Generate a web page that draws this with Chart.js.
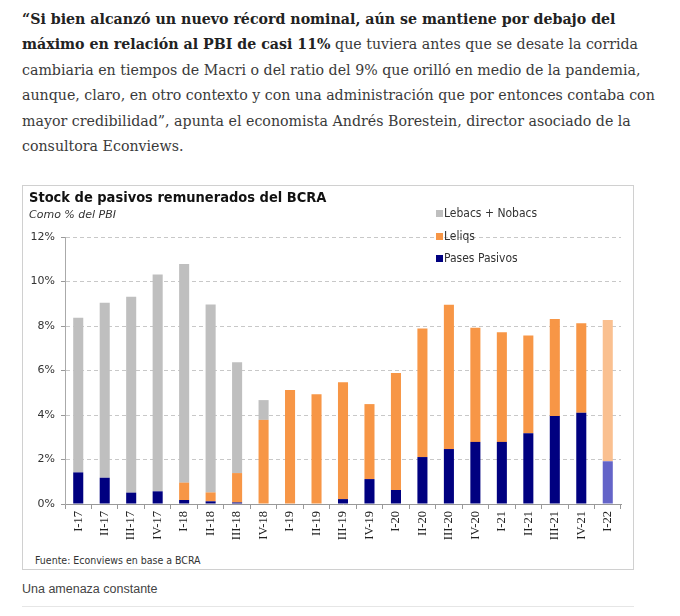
<!DOCTYPE html>
<html>
<head>
<meta charset="utf-8">
<script src="https://cdn.jsdelivr.net/npm/chart.js@4.4.1/dist/chart.umd.min.js"></script>
<style>
  body { margin: 0; background: #fff; width: 680px; height: 616px; position: relative; overflow: hidden; }
  #texto {
    position: absolute; left: 22px; top: 7px;
    font-family: "DejaVu Serif", serif; font-size: 14.2px; line-height: 25.4px;
    color: #3a3a3a; white-space: nowrap;
  }
  #texto b { color: #222; }
  #marco {
    position: absolute; left: 22px; top: 185px; width: 612px; height: 385px;
    border: 1px solid #d0d0d0; box-sizing: border-box;
  }
  #chartBox { position: absolute; left: 0px; top: 0px; width: 610px; height: 355px; }
  #fuente {
    position: absolute; left: 12px; top: 368px;
    font-family: "DejaVu Sans Condensed", "DejaVu Sans", sans-serif; font-size: 10.5px; color: #333;
  }
  #leyenda {
    position: absolute; left: 413px; top: 16px;
    font-family: "DejaVu Sans Condensed", "DejaVu Sans", sans-serif; font-size: 12px; color: #333;
  }
  #leyenda div { height: 22.5px; line-height: 22.5px; white-space: nowrap; }
  #leyenda span.sq { display: inline-block; width: 7px; height: 7px; margin-right: 1px; vertical-align: 0px; }
  #caption {
    position: absolute; left: 22px; top: 582px;
    font-family: "Liberation Sans", Arial, sans-serif; font-size: 12.5px; color: #444;
  }
  #linea { position: absolute; left: 22px; top: 606px; width: 612px; height: 1px; background: #e6e6e6; }
</style>
</head>
<body>
<div id="texto">
<b>“Si bien alcanzó un nuevo récord nominal, aún se mantiene por debajo del</b><br>
<b>máximo en relación al PBI de casi 11%</b> que tuviera antes que se desate la corrida<br>
cambiaria en tiempos de Macri o del ratio del 9% que orilló en medio de la pandemia,<br>
aunque, claro, en otro contexto y con una administración que por entonces contaba con<br>
mayor credibilidad”, apunta el economista Andrés Borestein, director asociado de la<br>
consultora Econviews.
</div>

<div id="marco">
  <div id="chartBox"><canvas id="stockChart"></canvas></div>
  <div id="leyenda"></div>
  <div id="fuente">Fuente: Econviews en base a BCRA</div>
</div>
<div id="caption">Una amenaza constante</div>
<div id="linea"></div>

<script>
// Trimestres
const trimestres = ['I-17', 'II-17', 'III-17', 'IV-17', 'I-18', 'II-18', 'III-18', 'IV-18',
    'I-19', 'II-19', 'III-19', 'IV-19', 'I-20', 'II-20', 'III-20', 'IV-20',
    'I-21', 'II-21', 'III-21', 'IV-21', 'I-22'];

// Valores en % del PBI
const pasesPasivos = [1.42, 1.18, 0.51, 0.57, 0.18, 0.12, 0.07, 0, 0, 0, 0.22, 1.12,
    0.63, 2.11, 2.47, 2.79, 2.79, 3.18, 3.96, 4.10, 1.92];
const leliqs = [0, 0, 0, 0, 0.78, 0.40, 1.32, 3.78, 5.12, 4.93, 5.25, 3.37,
    5.26, 5.78, 6.49, 5.13, 4.93, 4.39, 4.35, 4.02, 6.35];
const lebacsNobacs = [6.95, 7.87, 8.81, 9.75, 9.83, 8.45, 4.98, 0.89, 0, 0, 0, 0,
    0, 0, 0, 0, 0, 0, 0, 0, 0];

const yTicks = [0, 2, 4, 6, 8, 10, 12];

// Colores (el ultimo trimestre va mas claro)
const navy = '#000080';
const naranja = '#F79646';
const gris = '#BFBFBF';
const ultimo = trimestres.length - 1;
function colores(base, claro) {
    return trimestres.map((t, i) => i === ultimo ? claro : base);
}

const ctx = document.getElementById('stockChart').getContext('2d');
const chart = new Chart(ctx, {
    type: 'bar',
    data: {
        labels: trimestres,
        datasets: [{
            label: 'Pases Pasivos',
            data: pasesPasivos,
            backgroundColor: colores(navy, '#6464C8'),
            legendColor: navy
        }, {
            label: 'Leliqs',
            data: leliqs,
            backgroundColor: colores(naranja, '#FAC090'),
            legendColor: naranja
        }, {
            label: 'Lebacs + Nobacs',
            data: lebacsNobacs,
            backgroundColor: gris,
            legendColor: gris
        }]
    },
    options: {
        responsive: true,
        maintainAspectRatio: false,
        animation: false,
        categoryPercentage: 1,
        barPercentage: 0.38,
        layout: {
            padding: { left: 6, right: 12, top: 0, bottom: 0 }
        },
        scales: {
            x: {
                stacked: true,
                grid: {
                    offset: true,
                    drawOnChartArea: false,
                    tickLength: 5,
                    tickColor: '#999'
                },
                border: { color: '#999' },
                ticks: {
                    minRotation: 90,
                    maxRotation: 90,
                    padding: 2,
                    color: '#222',
                    font: { family: 'Liberation Serif', size: 12.5 }
                },
                afterFit: function(scale) {
                    scale.height = 37;
                }
            },
            y: {
                stacked: true,
                min: 0,
                max: 12,
                afterBuildTicks: function(scale) {
                    scale.ticks = yTicks.map(v => ({ value: v }));
                },
                grid: {
                    color: function(c) {
                        return c.tick && c.tick.value === 0 ? 'rgba(0,0,0,0)' : '#c8c8c8';
                    },
                    tickLength: 4,
                    tickColor: '#999'
                },
                border: { color: '#aaa', dash: [4, 3] },
                ticks: {
                    padding: 6,
                    color: '#333',
                    font: { family: 'DejaVu Sans', size: 11 },
                    callback: function(value) {
                        return value + '%';
                    }
                },
                afterFit: function(scale) {
                    scale.width = 36;
                }
            }
        },
        plugins: {
            legend: { display: false },
            tooltip: { enabled: false },
            title: {
                display: true,
                text: 'Stock de pasivos remunerados del BCRA',
                align: 'start',
                color: '#111',
                font: { family: 'DejaVu Sans Condensed', size: 14.5, weight: 'bold', lineHeight: 1.2 },
                padding: { top: 4, bottom: 0 }
            },
            subtitle: {
                display: true,
                text: 'Como % del PBI',
                align: 'start',
                color: '#333',
                font: { family: 'DejaVu Sans', size: 11, style: 'italic', lineHeight: 1.2 },
                padding: { top: 1, bottom: 15.4 }
            }
        }
    }
});

// Leyenda en HTML, en el orden del original
const leyenda = document.getElementById('leyenda');
chart.data.datasets.slice().reverse().forEach(ds => {
    const row = document.createElement('div');
    row.innerHTML = `<span class="sq" style="background:${ds.legendColor}"></span>${ds.label}`;
    leyenda.appendChild(row);
});
</script>
</body>
</html>
